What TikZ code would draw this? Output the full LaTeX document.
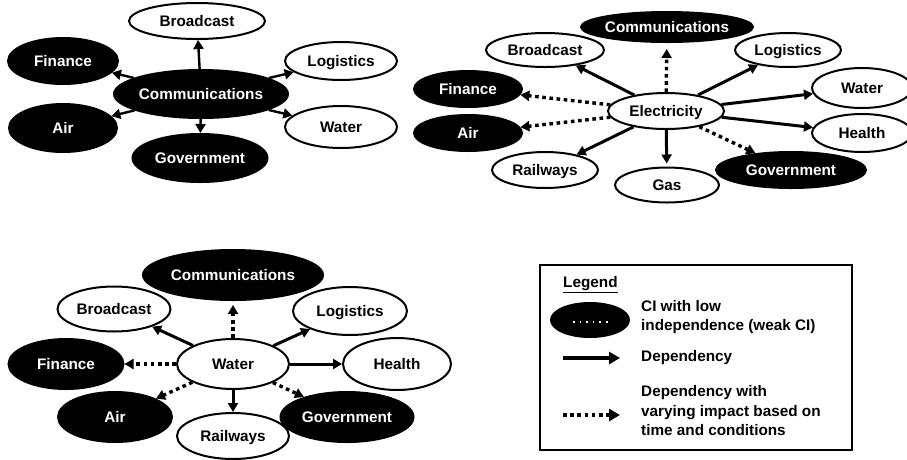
\documentclass[tikz,border=0pt]{standalone}
\usepackage{fontspec}
\setmainfont{Liberation Sans}
\usetikzlibrary{shapes.geometric,arrows.meta}
% zero-width label so the ellipse size is set only by minimum width/height
\newcommand\zw[1]{\makebox[0pt]{#1}}
\begin{document}
\begin{tikzpicture}[x=1pt,y=-1pt,
  ci/.style={ellipse, draw, line width=2pt, inner sep=0pt,
    text height=11pt, text depth=0pt,
    font=\fontsize{15.3}{18}\selectfont\bfseries},
  strong/.style={ci, fill=white, text=black},
  weak/.style={ci, fill=black, text=white},
  sz/.style 2 args={minimum width=#1pt, minimum height=#2pt},
  dep/.style={line width=3pt, -{Triangle[length=9pt,width=10pt]}},
  vary/.style={line width=3.4pt, dash pattern=on 3.6pt off 3.6pt,
    -{Triangle[length=9pt,width=10pt]}},
  legtext/.style={anchor=west, inner sep=0pt, align=left,
    font=\fontsize{15.3}{19.5}\selectfont\bfseries},
]
\useasboundingbox (0,0) rectangle (907,459);

% ---------- Communications as hub ----------
\node[weak,   sz={174}{48}] (c1)   at (201,94)  {\zw{Communications}};
\node[strong, sz={136}{36}] (c1b)  at (197,21)  {\zw{Broadcast}};
\node[weak,   sz={135}{48}] (c1g)  at (200,158) {\zw{Government}};
\node[weak,   sz={110}{46}] (c1f)  at (63,61)   {\zw{Finance}};
\node[weak,   sz={108}{48}] (c1a)  at (63,128)  {\zw{Air}};
\node[strong, sz={112}{38}] (c1l)  at (341,61)  {\zw{Logistics}};
\node[strong, sz={112}{42}] (c1w)  at (341,127) {\zw{Water}};
\begin{scope}[every path/.style={dep, line width=2.4pt}]
  \draw (c1) -- (c1b);
  \draw (c1) -- (c1g);
  \draw (c1) -- (c1f);
  \draw (c1) -- (c1a);
  \draw (c1) -- (c1l);
  \draw (c1) -- (c1w);
\end{scope}

% ---------- Electricity as hub ----------
\node[strong, sz={116}{36}] (e)    at (666,111) {\zw{Electricity}};
\node[weak,   sz={172}{30}] (ec)   at (667,27)  {\zw{Communications}};
\node[strong, sz={118}{34}] (eb)   at (545,50)  {\zw{Broadcast}};
\node[strong, sz={106}{34}] (el)   at (788,50)  {\zw{Logistics}};
\node[weak,   sz={108}{36}] (ef)   at (468,89)  {\zw{Finance}};
\node[strong, sz={100}{40}] (ew)   at (862,88)  {\zw{Water}};
\node[weak,   sz={108}{36}] (ea)   at (468,133) {\zw{Air}};
\node[strong, sz={100}{38}] (eh)   at (862,133) {\zw{Health}};
\node[strong, sz={106}{36}] (er)   at (545,170) {\zw{Railways}};
\node[strong, sz={104}{35}] (eg)   at (667,185) {\zw{Gas}};
\node[weak,   sz={150}{36}] (ego)  at (791,170) {\zw{Government}};
\draw[vary, shorten >=6pt] (e) -- (ec);
\draw[dep]  (e) -- (eb);
\draw[dep]  (e) -- (el);
\draw[vary] (e) -- (ef);
\draw[vary] (e) -- (ea);
\draw[dep]  (e) -- (ew);
\draw[dep]  (e) -- (eh);
\draw[dep]  (e) -- (er);
\draw[dep, shorten >=3pt] (e) -- (eg);
\draw[vary] (e) -- (ego);

% ---------- Water as hub ----------
\node[strong, sz={112}{50}] (w)    at (233,364) {\zw{Water}};
\node[weak,   sz={180}{50}] (wc)   at (233,275) {\zw{Communications}};
\node[strong, sz={113}{45}] (wb)   at (114,309) {\zw{Broadcast}};
\node[strong, sz={114}{48}] (wl)   at (350,311) {\zw{Logistics}};
\node[weak,   sz={115}{50}] (wf)   at (66,364)  {\zw{Finance}};
\node[strong, sz={108}{52}] (wh)   at (397,364) {\zw{Health}};
\node[weak,   sz={114}{50}] (wa)   at (115,417) {\zw{Air}};
\node[weak,   sz={133}{50}] (wg)   at (347,417) {\zw{Government}};
\node[strong, sz={112}{46}] (wr)   at (233,436) {\zw{Railways}};
\draw[vary, shorten >=4pt] (w) -- (wc);
\draw[dep]  (w) -- (wb);
\draw[dep]  (w) -- (wl);
\draw[vary] (w) -- (wf);
\draw[dep]  (w) -- (wh);
\draw[vary] (w) -- (wa);
\draw[dep]  (w) -- (wr);
\draw[vary] (w) -- (wg);

% ---------- Legend ----------
\node[draw, line width=1.8pt, minimum width=312pt, minimum height=185pt,
      inner sep=0pt] (legbox) at (696,357.5) {};
\node[legtext] (legtitle) at (563,285) {\underline{Legend}};
\node[weak, sz={78}{34}] (legci) at (590,320) {};
\draw[white, line width=1.6pt, dash pattern=on 1.6pt off 5pt] (573,322) -- (610,322);
\node[legtext] (legcitext) at (641,317) {CI with low\\independence (weak CI)};
\coordinate (ld0) at (563,358);
\coordinate (ld1) at (620,358);
\draw[dep, line width=3.4pt, -{Triangle[length=11pt,width=12pt]}] (ld0) -- (ld1);
\node[legtext] (legdep) at (641,358) {Dependency};
\coordinate (lv0) at (563,415);
\coordinate (lv1) at (620,415);
\draw[vary, -{Triangle[length=11pt,width=12pt]}] (lv0) -- (lv1);
\node[legtext] (legvary) at (641,411) {Dependency with\\varying impact based on\\time and conditions};
\end{tikzpicture}
\end{document}
